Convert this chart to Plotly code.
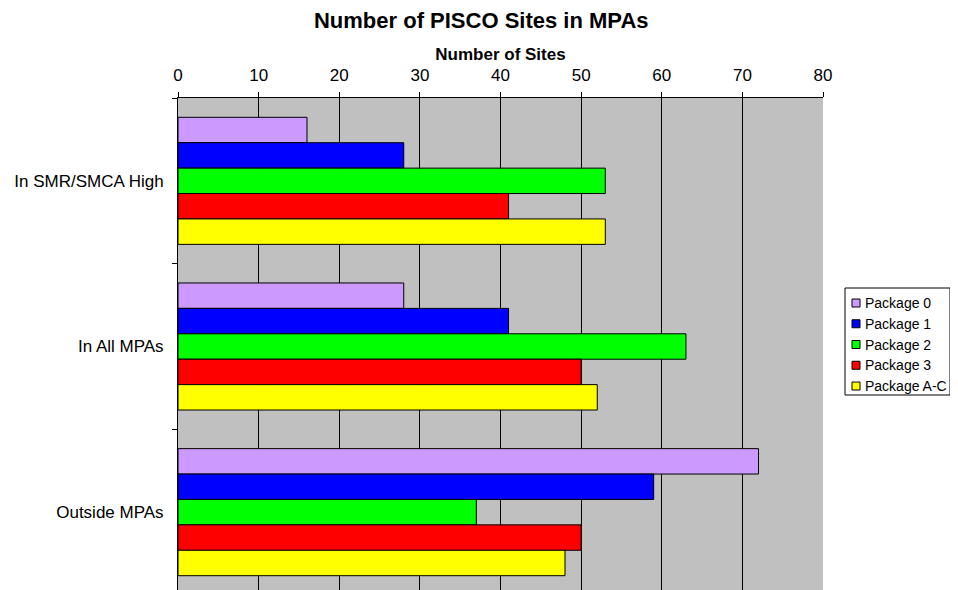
import plotly.graph_objects as go

categories = ["In SMR/SMCA High", "In All MPAs", "Outside MPAs"]
series_names = ["Package 0", "Package 1", "Package 2", "Package 3", "Package A-C"]
values = {
    "Package 0": [16, 28, 72],
    "Package 1": [28, 41, 59],
    "Package 2": [53, 63, 37],
    "Package 3": [41, 50, 50],
    "Package A-C": [53, 52, 48],
}
colors = {
    "Package 0": "#CC99FF",
    "Package 1": "#0000FF",
    "Package 2": "#00FF00",
    "Package 3": "#FF0000",
    "Package A-C": "#FFFF00",
}
x_ticks = [0, 10, 20, 30, 40, 50, 60, 70, 80]

FONT = "Liberation Sans, Arial, sans-serif"

# plot area in page pixels (page has an 8px body margin)
PX0, PX1, PY0, PY1 = 178, 823, 98, 595


def px_to_paper_x(px):
    return (px - PX0) / (PX1 - PX0)


def px_to_paper_y(py):
    return (PY1 - py) / (PY1 - PY0)


fig = go.Figure()
for name in series_names:
    fig.add_trace(go.Bar(
        y=categories, x=values[name], name=name, orientation="h",
        marker=dict(color=colors[name], line=dict(color="black", width=1)),
        showlegend=False,
    ))

# custom legend (Excel style: small square + text, boxed)
shapes = [dict(type="rect", xref="paper", yref="paper",
               x0=px_to_paper_x(845), x1=px_to_paper_x(950),
               y0=px_to_paper_y(288), y1=px_to_paper_y(395),
               line=dict(color="black", width=1), fillcolor="white", layer="above")]
annotations = []
for i, name in enumerate(series_names):
    cy = 303 + 20.75 * i
    shapes.append(dict(type="rect", xref="paper", yref="paper",
                       x0=px_to_paper_x(852), x1=px_to_paper_x(860),
                       y0=px_to_paper_y(cy + 4), y1=px_to_paper_y(cy - 4),
                       line=dict(color="black", width=1), fillcolor=colors[name],
                       layer="above"))
    annotations.append(dict(xref="paper", yref="paper",
                            x=px_to_paper_x(863), y=px_to_paper_y(cy),
                            xanchor="left", yanchor="middle", showarrow=False,
                            text=name, font=dict(size=14, family=FONT, color="black")))

fig.update_layout(
    width=958, height=590,
    margin=dict(l=PX0 - 8, r=958 - (PX1 - 8), t=PY0 - 8, b=590 - (PY1 - 8)),
    paper_bgcolor="white", plot_bgcolor="#C0C0C0",
    font=dict(family=FONT, size=17, color="black"),
    title=dict(text="<b>Number of PISCO Sites in MPAs</b>", x=0.494, xanchor="center",
               y=1 - 12 / 590, yanchor="middle", font=dict(size=22)),
    barmode="group", bargap=0.233, bargroupgap=0,
    showlegend=False,
    shapes=shapes, annotations=annotations,
    xaxis=dict(side="top", range=[0, 80], tickvals=x_ticks,
               showgrid=True, gridcolor="black", gridwidth=1,
               showline=True, linecolor="black", linewidth=1, mirror=False,
               ticks="outside", ticklen=5, tickcolor="black",
               zeroline=False, ticklabelstandoff=4, automargin=False,
               title=dict(text="<b>Number of Sites</b>", font=dict(size=17), standoff=1)),
    yaxis=dict(autorange="reversed", showline=True, linecolor="black", linewidth=1,
               ticks="outside", ticklen=5, tickcolor="black", tickson="boundaries",
               showgrid=False, ticklabelstandoff=10, automargin=False),
)

fig.write_html("out.html")
